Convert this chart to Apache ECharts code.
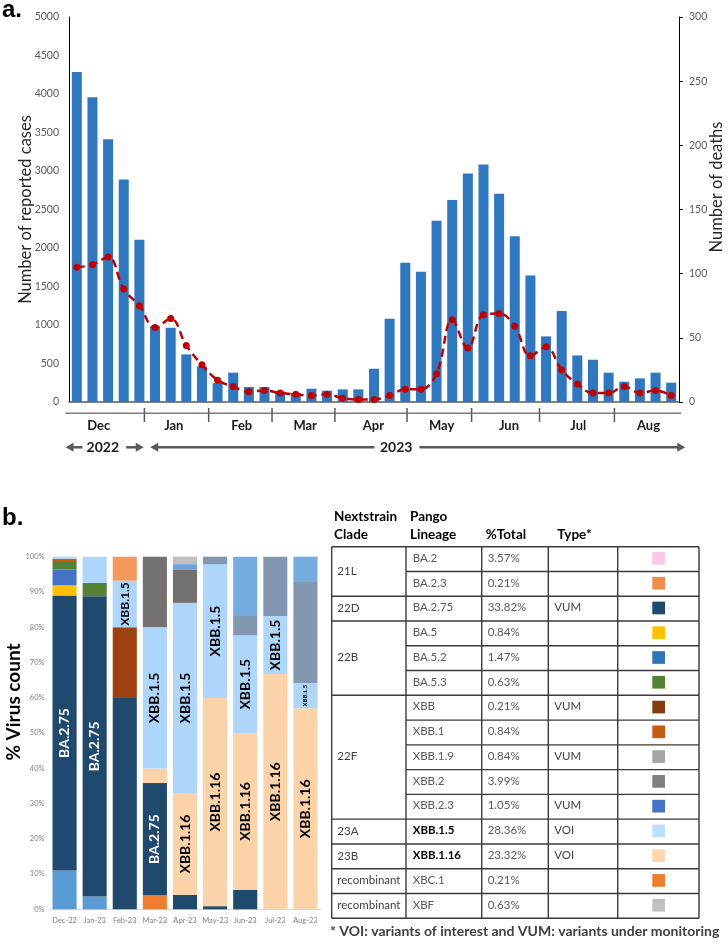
<!DOCTYPE html>
<html><head><meta charset="utf-8">
<script src="https://cdn.jsdelivr.net/npm/echarts@6/dist/echarts.min.js"></script>
<style>html,body{margin:0;padding:0;background:#fff}#c{width:728px;height:944px}</style>
</head><body><div id="c"></div>
<script>
// ---------- Panel a data ----------
const weekIds = Array.from({length:39},(_,i)=>'W'+(i+1));
const reportedCases = [4286,3957,3412,2889,2106,982,964,618,463,246,381,195,195,134,117,173,147,164,164,432,1081,1808,1691,2353,2625,2967,3084,2703,2154,1643,852,1181,605,549,381,264,307,381,251];
const deaths = [105,107,113,88,75,58,65,44,29,17,12,8,9,7,6,5,6,3,2,2,5,10,10,22,64,42,68,69,59,36,43,25,14,7,7,12,7,9,5];
const monthLabels = ['Dec','Jan','Feb','Mar','Apr','May','Jun','Jul','Aug'];
// month positions expressed in week units along the weekly axis
const monthCentreWeek = [1.9,6.7,11.04,15.1,19.46,23.82,28.13,32.56,37.05];
const monthBoundaryWeek = [4.82,8.93,12.98,17.0,21.61,25.74,30.08,34.87];
const yearLabels = ['2022','2023'];
const casesTicks = {min:0,max:5000,interval:500};
const deathsTicks = {min:0,max:300,interval:50};

// ---------- Panel b data ----------
const sampleMonths = ['Dec-22','Jan-23','Feb-23','Mar-23','Apr-23','May-23','Jun-23','Jul-23','Aug-23'];
const sLowBlue = [11.0,3.6,0,0,0,0,0,0,0];
const sXBC1    = [0,0,0,4.0,0,0,0,0,0];
const sBA275   = [78.0,85.2,59.9,31.8,4.1,0.9,5.5,0,0];
const sXBB116  = [0,0,0,4.1,28.8,59.0,44.5,66.7,57.0];
const sBA5     = [2.9,0,0,0,0,0,0,0,0];
const sBA52    = [4.5,0,0,0,0,0,0,0,0];
const sBA53    = [2.1,3.8,0,0,0,0,0,0,0];
const sXBB     = [0,0,20.1,0,0,0,0,0,0];
const sXBB1    = [0.9,0,0,0,0,0,0,0,0];
const sXBB15   = [0.6,7.4,13.2,40.1,54.0,38.0,27.7,16.5,7.2];
const sBA23    = [0,0,6.8,0,0,0,0,0,0];
const sXBB2    = [0,0,0,20.0,9.5,0,0,0,0];
const sXBB23   = [0,0,0,0,1.5,0,0,0,0];
const sXBF     = [0,0,0,0,2.1,0,0,0,0];
const sSlate   = [0,0,0,0,0,2.1,5.5,16.8,28.6];
const sTopBlue = [0,0,0,0,0,0,16.8,0,7.2];

// ---------- Table data ----------
const cladeGroups = [['21L',2],['22D',1],['22B',3],['22F',5],['23A',1],['23B',1],['recombinant',1],['recombinant',1]];
const lineages = ['BA.2','BA.2.3','BA.2.75','BA.5','BA.5.2','BA.5.3','XBB','XBB.1','XBB.1.9','XBB.2','XBB.2.3','XBB.1.5','XBB.1.16','XBC.1','XBF'];
const pctTotal = ['3.57%','0.21%','33.82%','0.84%','1.47%','0.63%','0.21%','0.84%','0.84%','3.99%','1.05%','28.36%','23.32%','0.21%','0.63%'];
const lineageType = ['','','VUM','','','','VUM','','VUM','','VUM','VOI','VOI','',''];
const boldLineages = ['XBB.1.5','XBB.1.16'];
const footnote = '* VOI: variants of interest and VUM: variants under monitoring';

// ---------- styles ----------
const FONT = 'Lato';
const lineageColors = ['#FFC8E6','#F08C4C','#1F4A70','#FFC000','#2E75B6','#548235','#843C0C','#C55A11','#A5A5A5','#7F7F7F','#4472C4','#BDDFFF','#FFD5B0','#ED7D31','#BFBFBF'];

const stackDefs = [
  ['other', sLowBlue, '#5B9BD5'],
  ['XBC.1', sXBC1, '#ED7D31'],
  ['BA.2.75', sBA275, '#1F4A6E', {0:14,1:14,3:14}, '#ffffff'],
  ['XBB.1.16', sXBB116, '#FCD2A9', {4:14,5:14,6:14,7:14,8:14}, '#000000'],
  ['BA.5', sBA5, '#FFC000'],
  ['BA.5.2', sBA52, '#4472C4'],
  ['BA.5.3', sBA53, '#548235'],
  ['XBB', sXBB, '#9C410F'],
  ['XBB.1', sXBB1, '#C55A11'],
  ['XBB.1.5', sXBB15, '#AED6FB', {2:12,3:14,4:14,5:14,6:14,7:14,8:6}, '#000000'],
  ['BA.2.3', sBA23, '#F29A5E'],
  ['XBB.2', sXBB2, '#767171'],
  ['XBB.2.3', sXBB23, '#6FA3D9'],
  ['XBF', sXBF, '#BFBFBF'],
  ['other2', sSlate, '#8497B0'],
  ['other3', sTopBlue, '#74ACDF']
];

const stackSeries = stackDefs.map(([name, vals, color, labelCells, labelColor]) => ({
  name, type:'bar', stack:'v', xAxisIndex:2, yAxisIndex:2, barCategoryGap:'20%',
  itemStyle:{color},
  data: vals.map((v,i)=> (labelCells && labelCells[i]) ? {value:v, label:{show:true, position:'inside', rotate:90, color:labelColor, fontSize:labelCells[i], fontWeight:'bold', fontFamily:FONT, formatter:name}} : v)
}));

const plain = v => String(v);
const option = {
  animation:false,
  textStyle:{fontFamily:FONT},
  grid:[{left:69,right:49,top:17,height:385},{left:49.5,right:407.5,top:556.7,height:352.6}],
  xAxis:[
    {type:'category',gridIndex:0,data:weekIds,axisLine:{lineStyle:{color:'#595959',width:1.5}},axisTick:{show:false},axisLabel:{show:false}},
    {type:'value',gridIndex:0,min:0,max:39,show:false},
    {type:'category',gridIndex:1,data:sampleMonths,axisLine:{lineStyle:{color:'#D9D9D9'}},axisTick:{show:false},axisLabel:{interval:0,fontSize:7.5,color:'#808080',margin:7,fontFamily:FONT}}
  ],
  yAxis:[
    {type:'value',gridIndex:0,min:casesTicks.min,max:casesTicks.max,interval:casesTicks.interval,axisLine:{show:true,lineStyle:{color:'#000',width:1}},axisTick:{show:false},splitLine:{show:false},axisLabel:{formatter:plain,fontSize:10.5,color:'#595959',margin:10,fontFamily:FONT}},
    {type:'value',gridIndex:0,position:'right',min:deathsTicks.min,max:deathsTicks.max,interval:deathsTicks.interval,axisLine:{show:true,lineStyle:{color:'#000'}},axisTick:{show:true,inside:false,length:4,lineStyle:{color:'#000'}},splitLine:{show:false},axisLabel:{formatter:plain,fontSize:10.5,color:'#595959',margin:10,fontFamily:FONT}},
    {type:'value',gridIndex:1,min:0,max:100,interval:10,axisLine:{show:false},axisTick:{show:false},splitLine:{show:false},axisLabel:{formatter:'{value}%',fontSize:7.5,color:'#808080',margin:5,fontFamily:FONT}}
  ],
  series:[
    {name:'Reported cases',type:'bar',xAxisIndex:0,yAxisIndex:0,data:reportedCases,barCategoryGap:'36%',itemStyle:{color:'#2F78BF'},z:2},
    {name:'Deaths',type:'line',xAxisIndex:0,yAxisIndex:1,data:deaths,smooth:0.4,symbol:'circle',symbolSize:7,
      lineStyle:{color:'#C00000',width:2.5,type:[8,5]},itemStyle:{color:'#C00000'},z:5},
    ...stackSeries
  ]
};

const chart = echarts.init(document.getElementById('c'));
chart.setOption(option);

const px = w => chart.convertToPixel({xAxisIndex:1}, w);
const G = [];
const txt = (x,y,text,o={}) => G.push({type:'text',x,y,rotation:o.rot||0,z:10,style:Object.assign({text,fontFamily:FONT,fontSize:12,fill:'#000',align:'left',verticalAlign:'middle'},o.s||{})});
const ln = (x1,y1,x2,y2,stroke,lw) => G.push({type:'line',z:10,shape:{x1,y1,x2,y2},style:{stroke,lineWidth:lw}});
const tri = (pts,fill) => G.push({type:'polygon',z:10,shape:{points:pts},style:{fill}});

// panel letters
txt(2,10,'a.',{s:{fontSize:24,fontWeight:'bold',fontFamily:'Liberation Sans'}});
txt(2,518,'b.',{s:{fontSize:24,fontWeight:'bold',fontFamily:'Liberation Sans'}});
// axis titles
txt(26,209.5,'Number of reported cases',{rot:Math.PI/2,s:{fontSize:16.5,fill:'#262626',align:'center'}});
txt(717,187,'Number of deaths',{rot:Math.PI/2,s:{fontSize:16.5,fill:'#262626',align:'center'}});
txt(14,702,'% Virus count',{rot:Math.PI/2,s:{fontSize:19,fontWeight:'bold',fill:'#000',align:'center'}});

// month row
const mY = 413.3;
ln(px(-0.24),mY,px(39.14),mY,'#7F7F7F',1.5);
monthBoundaryWeek.forEach(w=>ln(px(w),408,px(w),422,'#595959',1.5));
monthLabels.forEach((m,i)=>txt(px(monthCentreWeek[i]),426,m,{s:{fontSize:13,fontWeight:'bold',fill:'#1a1a1a',align:'center'}}));
// year arrows
const aY = 447.3, AC = '#595959';
const arrowL = (xh,xe)=>{ln(xh+6,aY,xe,aY,AC,2.5);tri([[xh,aY],[xh+8,aY-4.5],[xh+8,aY+4.5]],AC);};
const arrowR = (xs,xh)=>{ln(xs,aY,xh-6,aY,AC,2.5);tri([[xh,aY],[xh-8,aY-4.5],[xh-8,aY+4.5]],AC);};
arrowL(px(-0.22),px(0.86));
txt(px(2.16),aY,yearLabels[0],{s:{fontSize:14,fontWeight:'bold',fill:'#1a1a1a',align:'center'}});
arrowR(px(3.66),px(4.78));
arrowL(px(5.19),px(19.53));
txt(px(20.92),aY,yearLabels[1],{s:{fontSize:14,fontWeight:'bold',fill:'#1a1a1a',align:'center'}});
arrowR(px(22.4),px(39.4));

// table
const cx = [331.7,406,481.7,548.3,617.7,699];
const tTop = 546.7, rh = 24.77, nRows = lineages.length, tBot = tTop + rh*nRows;
const hs = {fontSize:13.5,fontWeight:'bold',fill:'#000'};
txt(334,517,'Nextstrain',{s:hs}); txt(334,535,'Clade',{s:hs});
txt(410,517,'Pango',{s:hs}); txt(410,535,'Lineage',{s:hs});
txt(485.7,535,'%Total',{s:hs}); txt(557.3,535,'Type*',{s:hs});
const LC = '#3A3A3A';
cx.forEach(x=>ln(x,tTop,x,tBot,LC,1.4));
ln(cx[0],tTop,cx[5],tTop,LC,1.4); ln(cx[0],tBot,cx[5],tBot,LC,1.4);
const groupStarts = new Set(); let r0 = 0;
cladeGroups.forEach(([name,n])=>{groupStarts.add(r0);
  txt(337.3,tTop+rh*(r0+n/2)-0.5,name,{s:{fontSize:11.5,fill:'#404040'}}); r0+=n;});
for(let k=1;k<nRows;k++){const y=tTop+rh*k; ln(groupStarts.has(k)?cx[0]:cx[1],y,cx[5],y,LC,1.4);}
lineages.forEach((l,i)=>{
  const y = tTop+rh*(i+0.5)-1;
  const b = boldLineages.includes(l);
  txt(412.7,y,l,{s:{fontSize:11.5,fill:b?'#000':'#595959',fontWeight:b?'bold':'normal'}});
  txt(487.7,y,pctTotal[i],{s:{fontSize:11.5,fill:'#595959'}});
  if(lineageType[i]) txt(554.3,y,lineageType[i],{s:{fontSize:11.5,fill:'#404040'}});
  G.push({type:'rect',z:10,shape:{x:652.3,y:tTop+rh*(i+0.5)-7,width:12.7,height:12.7},style:{fill:lineageColors[i]}});
});
txt(330,931.7,footnote,{s:{fontSize:14,fontWeight:'bold',fill:'#404040'}});

chart.setOption({graphic:{elements:G}});
</script></body></html>
